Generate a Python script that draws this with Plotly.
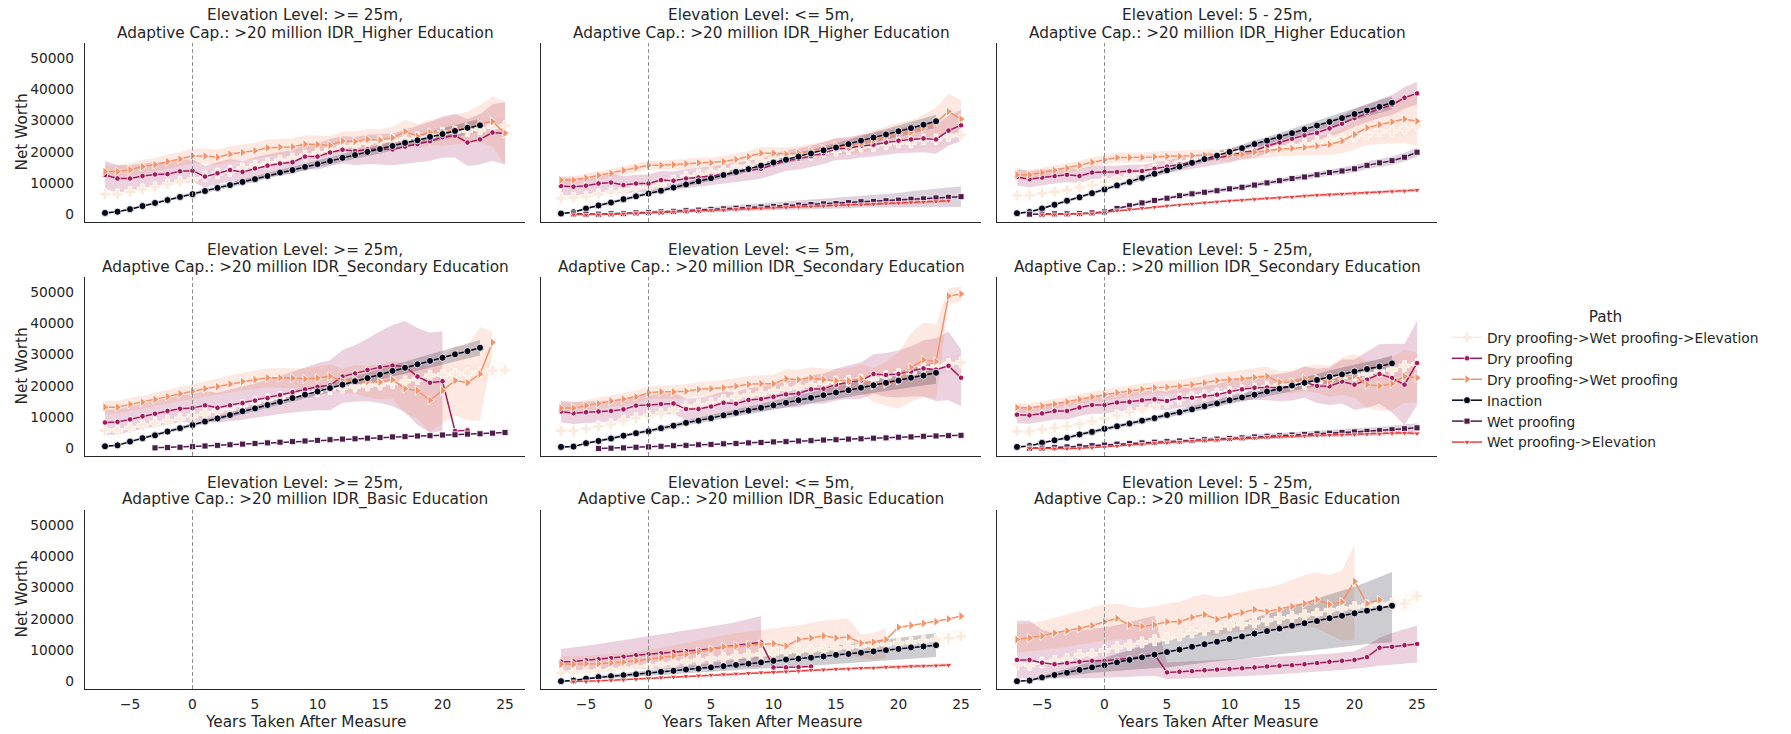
import plotly.graph_objects as go

FIG_W, FIG_H = 1791, 734

# ---------------------------------------------------------------- styling
PATHS = [
    "Dry proofing->Wet proofing->Elevation",
    "Dry proofing",
    "Dry proofing->Wet proofing",
    "Inaction",
    "Wet proofing",
    "Wet proofing->Elevation",
]
COLORS = {
    "Dry proofing->Wet proofing->Elevation": "#faebdd",
    "Dry proofing": "#a11a5b",
    "Dry proofing->Wet proofing": "#f4926a",
    "Inaction": "#03051a",
    "Wet proofing": "#4c1d4b",
    "Wet proofing->Elevation": "#e83f3f",
}
SYMBOLS = {
    "Dry proofing->Wet proofing->Elevation": "cross",
    "Dry proofing": "circle",
    "Dry proofing->Wet proofing": "triangle-right",
    "Inaction": "circle",
    "Wet proofing": "square",
    "Wet proofing->Elevation": "triangle-down",
}
MARKER_SIZES = {
    "Dry proofing->Wet proofing->Elevation": 9,
    "Dry proofing": 5.5,
    "Dry proofing->Wet proofing": 8,
    "Inaction": 7,
    "Wet proofing": 6,
    "Wet proofing->Elevation": 6,
}

ELEVATION_LEVELS = [">= 25m", "<= 5m", "5 - 25m"]
EDUCATION_LEVELS = ["Higher Education", "Secondary Education", "Basic Education"]
X_TICKS = [-5, 0, 5, 10, 15, 20, 25]
Y_TICKS = [0, 10000, 20000, 30000, 40000, 50000]

TEXT = "#262626"
FONT = "DejaVu Sans"

# ---------------------------------------------------------------- data
# Net worth in thousands; each series starts at year `start` and runs one
# value per year. Bands are the confidence interval (half width, or lo/hi).

band_narrow_31 = [0.3, 0.3, 0.4, 0.4, 0.5, 0.5, 0.5, 0.6, 0.6, 0.7, 0.7, 0.8, 0.8, 0.9, 0.9, 1.0,
                  1.0, 1.1, 1.1, 1.2, 1.2, 1.3, 1.4, 1.4, 1.5, 1.6, 1.7, 1.8, 1.9, 2.0, 2.1]
band_light_33 = [1.0, 1.0, 1.0, 1.0, 1.1, 1.1, 1.1, 1.2, 1.2, 1.2, 1.3, 1.3, 1.3, 1.4, 1.4, 1.4, 1.5,
                 1.5, 1.6, 1.6, 1.7, 1.7, 1.8, 1.9, 2.0, 2.1, 2.2, 2.3, 2.4, 2.5, 2.6, 2.8, 3.0]
band_wp_32 = [0.3, 0.3, 0.3, 0.3, 0.3, 0.3, 0.4, 0.4, 0.4, 0.5, 0.5, 0.5, 0.6, 0.6, 0.6, 0.7,
              0.7, 0.7, 0.8, 0.8, 0.8, 0.9, 0.9, 1.0, 1.0, 1.1, 1.1, 1.2, 1.2, 1.3, 1.4, 1.5]
band_wpe_32 = [0.2, 0.2, 0.2, 0.2, 0.2, 0.2, 0.2, 0.3, 0.3, 0.3, 0.3, 0.3, 0.3, 0.3, 0.4, 0.4,
               0.4, 0.4, 0.4, 0.4, 0.5, 0.5, 0.5, 0.5, 0.5, 0.5, 0.6, 0.6, 0.6, 0.6, 0.6, 0.6]

# >= 25m, Higher Education
higher_ge25 = {
    "Dry proofing->Wet proofing->Elevation": dict(
        start=-7,
        mean=[6.5, 6.5, 7.3, 8.1, 8.7, 9.6, 10.5, 11.3, 12.2, 13.1, 13.9, 14.7, 15.6, 16.3, 17.2, 17.9, 18.8,
              19.6, 20.6, 21.5, 22.2, 23.0, 23.5, 23.8, 24.0, 24.7, 25.1, 26.2, 26.5, 26.7, 27.2, 28.1, 28.3],
        half=band_light_33),
    "Dry proofing": dict(
        start=-7,
        mean=[12.6, 11.5, 11.5, 12.3, 12.8, 12.9, 13.8, 14.0, 12.1, 13.2, 14.2, 13.6, 14.7, 15.6, 16.3, 16.7, 18.5,
              18.5, 19.8, 20.7, 20.3, 20.8, 20.9, 20.8, 21.7, 22.5, 23.4, 24.7, 25.2, 23.0, 24.0, 26.2, 25.9],
        half=[4.5, 4.3, 4.2, 4.0, 3.9, 3.8, 3.7, 3.6, 3.5, 3.5, 3.5, 3.5, 3.6, 3.6, 3.7, 3.8, 4.0,
              4.2, 4.3, 4.4, 4.5, 4.7, 4.9, 5.1, 5.4, 5.8, 6.2, 6.6, 7.0, 7.5, 8.0, 9.0, 10.0]),
    "Dry proofing->Wet proofing": dict(
        start=-7,
        mean=[13.7, 13.7, 14.3, 15.3, 15.9, 16.9, 17.7, 18.7, 18.7, 18.3, 19.3, 19.8, 20.4, 21.3, 21.5, 21.6, 22.5,
              22.4, 22.1, 23.5, 23.3, 24.0, 23.8, 24.5, 26.5, 25.0, 26.2, 26.3, 27.0, 27.9, 29.0, 29.7, 26.0],
        half=[2.0, 2.0, 2.1, 2.2, 2.2, 2.3, 2.3, 2.4, 2.4, 2.5, 2.5, 2.6, 2.6, 2.7, 2.7, 2.8, 2.8,
              2.9, 3.0, 3.1, 3.2, 3.3, 3.4, 3.5, 3.7, 3.9, 4.1, 4.4, 4.7, 5.0, 6.0, 8.0, 10.0]),
    "Inaction": dict(
        start=-7,
        mean=[0.5, 0.9, 1.7, 2.7, 3.7, 4.6, 5.6, 6.5, 7.5, 8.5, 9.4, 10.4, 11.3, 12.3, 13.4, 14.2,
              15.2, 16.1, 17.1, 18.1, 19.0, 20.0, 20.9, 21.9, 22.9, 23.7, 24.8, 25.7, 26.7, 27.7, 28.5],
        half=band_narrow_31),
}

# <= 5m, Higher Education
higher_le5 = {
    "Dry proofing->Wet proofing->Elevation": dict(
        start=-7,
        mean=[5.2, 5.4, 5.7, 6.5, 7.1, 7.8, 8.4, 8.9, 9.4, 10.8, 12.0, 12.7, 13.4, 14.1, 15.2, 15.2, 16.9,
              17.8, 18.8, 18.6, 19.1, 20.1, 20.4, 20.9, 21.7, 21.9, 22.5, 23.0, 23.0, 24.0, 24.0, 25.1, 25.4],
        half=band_light_33),
    "Dry proofing": dict(
        start=-7,
        mean=[9.1, 8.9, 9.2, 9.9, 10.2, 9.4, 9.9, 9.9, 11.0, 10.8, 11.5, 11.8, 12.3, 12.9, 13.5, 14.1, 14.6,
              16.0, 17.2, 17.8, 18.6, 19.6, 20.9, 21.2, 21.9, 22.3, 23.0, 23.6, 24.0, 24.3, 24.0, 26.8, 28.5],
        half=[2.8, 2.8, 2.8, 2.8, 2.8, 2.8, 2.8, 2.9, 2.9, 2.9, 3.0, 3.0, 3.0, 3.1, 3.1, 3.2, 3.2,
              3.3, 3.3, 3.4, 3.4, 3.5, 3.5, 3.6, 3.7, 3.8, 3.9, 4.0, 4.2, 4.4, 4.6, 4.8, 5.0]),
    "Dry proofing->Wet proofing": dict(
        start=-7,
        mean=[11.0, 11.0, 11.7, 12.5, 13.1, 14.1, 14.9, 15.7, 15.7, 15.9, 16.2, 16.5, 16.5, 16.9, 17.6, 18.5, 19.6,
              19.6, 19.3, 19.6, 20.2, 20.9, 21.9, 21.7, 22.5, 23.8, 24.9, 25.8, 26.3, 27.7, 29.3, 32.9, 30.5],
        half=[1.3, 1.3, 1.3, 1.4, 1.4, 1.4, 1.5, 1.5, 1.5, 1.6, 1.6, 1.7, 1.7, 1.8, 1.8, 1.9, 2.0,
              2.0, 2.1, 2.2, 2.3, 2.4, 2.5, 2.6, 2.8, 3.0, 3.2, 3.5, 3.8, 4.2, 4.8, 5.8, 6.0]),
    "Inaction": dict(
        start=-7,
        mean=[0.3, 0.7, 1.9, 2.9, 3.8, 4.9, 5.8, 6.7, 7.6, 8.6, 9.6, 10.6, 11.6, 12.6, 13.6, 14.5,
              15.6, 16.6, 17.5, 18.5, 19.5, 20.5, 21.4, 22.5, 23.6, 24.6, 25.6, 26.6, 27.6, 28.7, 29.8],
        half=band_narrow_31),
    "Wet proofing": dict(
        start=-6,
        mean=[0.2, 0.1, 0.1, 0.2, 0.3, 0.5, 0.6, 0.8, 1.0, 1.2, 1.4, 1.6, 1.8, 2.0, 2.2, 2.4,
              2.6, 2.8, 3.0, 3.2, 3.4, 3.5, 3.8, 4.1, 4.2, 4.4, 4.6, 4.9, 5.0, 5.3, 5.5, 5.7],
        half=[0.3, 0.3, 0.3, 0.3, 0.4, 0.4, 0.5, 0.5, 0.6, 0.7, 0.7, 0.8, 0.9, 1.0, 1.0, 1.1,
              1.2, 1.3, 1.4, 1.5, 1.6, 1.7, 1.8, 1.9, 2.0, 2.2, 2.3, 2.5, 2.7, 2.9, 3.1, 3.3]),
    "Wet proofing->Elevation": dict(
        start=-6,
        mean=[0.0, -0.1, 0.0, 0.1, 0.3, 0.4, 0.5, 0.7, 0.9, 1.0, 1.2, 1.4, 1.5, 1.7, 1.9, 2.0,
              2.2, 2.3, 2.5, 2.6, 2.8, 2.9, 3.1, 3.2, 3.4, 3.6, 3.7, 3.9, 4.0, 4.2, 4.4],
        half=band_wpe_32[:31]),
}

# 5 - 25m, Higher Education
higher_5to25 = {
    "Dry proofing->Wet proofing->Elevation": dict(
        start=-7,
        mean=[6.1, 6.1, 6.8, 7.3, 7.8, 8.7, 9.4, 10.4, 11.5, 12.3, 13.4, 14.4, 15.2, 16.5, 17.8, 18.6, 19.3,
              19.9, 20.4, 20.7, 20.9, 21.4, 21.9, 22.5, 23.2, 23.8, 24.2, 24.9, 25.6, 26.6, 26.6, 27.4, 28.4],
        half=band_light_33),
    "Dry proofing": dict(
        start=-7,
        mean=[12.0, 11.3, 11.8, 12.3, 12.7, 12.3, 13.4, 13.6, 13.6, 13.9, 13.9, 14.6, 15.3, 16.0, 16.7, 17.5, 18.0,
              18.8, 19.9, 20.4, 21.9, 23.0, 24.2, 25.3, 26.1, 27.5, 29.0, 30.8, 32.4, 33.8, 35.0, 37.3, 38.7],
        half=[2.7, 2.6, 2.5, 2.4, 2.3, 2.2, 2.1, 2.0, 2.0, 2.0, 2.0, 2.0, 2.0, 2.0, 2.0, 2.1, 2.1,
              2.2, 2.2, 2.3, 2.3, 2.4, 2.4, 2.5, 2.5, 2.6, 2.7, 2.8, 2.9, 3.0, 3.2, 3.4, 3.6]),
    "Dry proofing->Wet proofing": dict(
        start=-7,
        mean=[12.7, 12.7, 13.4, 14.1, 14.8, 15.7, 16.7, 17.5, 18.2, 18.2, 18.2, 18.4, 18.6, 18.6, 18.8, 19.0, 19.0,
              19.0, 19.2, 19.9, 20.4, 20.9, 21.1, 21.4, 21.9, 22.4, 23.5, 25.6, 27.7, 28.7, 29.6, 30.5, 29.8],
        half=[1.5, 1.5, 1.5, 1.5, 1.5, 1.5, 1.5, 1.5, 1.6, 1.6, 1.6, 1.7, 1.7, 1.8, 1.8, 1.9, 1.9,
              2.0, 2.0, 2.1, 2.2, 2.3, 2.5, 2.7, 3.0, 3.4, 4.0, 4.8, 5.5, 6.2, 7.0, 7.6, 8.0]),
    "Inaction": dict(
        start=-7,
        mean=[0.4, 0.8, 1.9, 3.1, 4.4, 5.5, 6.8, 8.0, 9.3, 10.4, 11.7, 13.0, 14.1, 15.3, 16.5, 17.7,
              18.8, 20.0, 21.2, 22.5, 23.6, 24.8, 26.0, 27.2, 28.4, 29.6, 30.8, 32.1, 33.2, 34.4, 35.7],
        half=band_narrow_31),
    "Wet proofing": dict(
        start=-6,
        mean=[0.1, 0.1, 0.2, 0.2, 0.3, 0.5, 0.8, 1.9, 2.8, 3.7, 4.5, 5.2, 6.0, 6.6, 7.1, 7.6,
              8.2, 8.7, 9.4, 10.1, 10.8, 11.5, 12.0, 12.7, 13.4, 13.9, 14.6, 15.7, 16.5, 17.2, 18.3, 19.9],
        half=band_wp_32),
    "Wet proofing->Elevation": dict(
        start=-5,
        mean=[0.0, 0.0, 0.0, 0.2, 0.3, 0.7, 1.3, 1.7, 2.1, 2.4, 2.8, 3.1, 3.4, 3.8, 4.1, 4.4,
              4.6, 4.9, 5.2, 5.4, 5.6, 6.0, 6.2, 6.4, 6.6, 6.8, 7.0, 7.2, 7.4, 7.6, 7.8],
        half=band_wpe_32[:31]),
}

# >= 25m, Secondary Education
secondary_ge25 = {
    "Dry proofing->Wet proofing->Elevation": dict(
        start=-7,
        mean=[5.8, 5.8, 6.6, 7.4, 8.2, 8.8, 9.5, 10.4, 11.2, 12.1, 12.9, 13.9, 14.8, 15.7, 16.4, 17.1, 17.8,
              18.3, 19.0, 19.4, 19.8, 20.1, 20.4, 20.9, 21.5, 22.2, 23.3, 23.6, 23.8, 24.0, 24.4, 24.9, 25.1],
        half=band_light_33),
    "Dry proofing": dict(
        start=-7,
        mean=[8.3, 8.5, 9.3, 10.3, 11.1, 12.0, 12.7, 12.9, 13.8, 13.0, 13.8, 14.5, 15.3, 16.1, 17.1, 18.0,
              18.9, 19.7, 20.2, 23.0, 24.0, 25.1, 26.0, 26.5, 26.2, 23.0, 21.0, 21.5, 5.6, 5.8],
        half=[4.0, 4.0, 4.0, 4.1, 4.1, 4.2, 4.3, 4.5, 4.6, 4.8, 5.0, 5.3, 5.5, 5.8, 6.1, 6.5,
              7.0, 7.5, 8.0, 8.5, 9.0, 10.0, 11.5, 13.0, 14.5, 15.5, 16.0, 16.0]),
    "Dry proofing->Wet proofing": dict(
        start=-7,
        mean=[13.2, 13.2, 14.1, 14.8, 15.7, 16.6, 17.5, 18.3, 19.1, 19.8, 20.6, 21.4, 22.0, 22.6, 22.6, 22.5,
              22.2, 22.5, 23.1, 21.5, 22.1, 21.4, 21.2, 22.0, 19.1, 18.5, 15.4, 18.5, 21.7, 21.0, 23.8, 33.9],
        half=[2.0, 2.0, 2.1, 2.1, 2.2, 2.2, 2.3, 2.4, 2.5, 2.6, 2.7, 2.8, 2.9, 3.0, 3.1, 3.2,
              3.4, 3.6, 3.8, 4.0, 4.5, 5.0, 5.5, 6.0, 8.0, 9.0, 10.0, 10.5, 11.0, 12.0, 15.0, 3.5]),
    "Inaction": dict(
        start=-7,
        mean=[0.7, 1.0, 2.2, 3.3, 4.2, 5.4, 6.5, 7.5, 8.6, 9.6, 10.7, 11.9, 12.8, 13.9, 14.9, 16.1,
              17.2, 18.2, 19.3, 20.4, 21.5, 22.5, 23.6, 24.8, 25.8, 26.9, 28.0, 29.0, 30.1, 31.1, 32.2],
        half=[0.3, 0.3, 0.4, 0.4, 0.5, 0.5, 0.6, 0.6, 0.7, 0.7, 0.8, 0.8, 0.9, 0.9, 1.0, 1.1,
              1.1, 1.2, 1.3, 1.4, 1.5, 1.6, 1.7, 1.8, 1.9, 2.0, 2.1, 2.2, 2.3, 2.4, 2.5]),
    "Wet proofing": dict(
        start=-3,
        mean=[0.2, 0.3, 0.4, 0.6, 0.8, 1.0, 1.2, 1.4, 1.6, 1.8, 2.0, 2.2, 2.4, 2.6, 2.8,
              3.0, 3.1, 3.3, 3.5, 3.7, 3.8, 4.0, 4.1, 4.3, 4.4, 4.6, 4.7, 4.9, 5.1]),
}

# <= 5m, Secondary Education
secondary_le5 = {
    "Dry proofing->Wet proofing->Elevation": dict(
        start=-7,
        mean=[5.7, 5.7, 6.3, 7.1, 7.8, 8.9, 9.7, 10.4, 11.1, 12.3, 13.4, 13.9, 14.4, 15.5, 16.5, 17.0, 17.6,
              18.3, 19.1, 19.6, 20.2, 21.0, 21.4, 21.7, 22.0, 22.3, 23.1, 23.8, 24.3, 25.7, 26.2, 27.0, 27.5],
        half=band_light_33),
    "Dry proofing": dict(
        start=-7,
        mean=[11.8, 11.3, 11.6, 11.8, 12.0, 12.5, 13.7, 13.9, 14.2, 14.4, 12.6, 12.6, 13.4, 14.6, 14.3, 15.5, 15.8,
              16.5, 17.3, 17.6, 18.9, 19.1, 20.4, 21.2, 21.7, 23.8, 23.5, 23.8, 24.6, 25.6, 25.2, 26.4, 22.6],
        half=[3.5, 3.5, 3.4, 3.4, 3.3, 3.3, 3.3, 3.3, 3.3, 3.4, 3.4, 3.5, 3.5, 3.6, 3.7, 3.8, 3.9,
              4.0, 4.2, 4.4, 4.6, 4.8, 5.1, 5.4, 5.8, 6.3, 7.0, 7.5, 8.0, 9.0, 10.0, 11.0, 9.0]),
    "Dry proofing->Wet proofing": dict(
        start=-7,
        mean=[12.9, 12.9, 13.7, 14.4, 15.2, 15.8, 16.5, 17.8, 18.1, 18.1, 18.3, 18.9, 19.1, 19.4, 19.9, 20.5, 20.7,
              20.7, 22.3, 22.0, 22.6, 22.0, 21.7, 21.7, 22.3, 20.2, 20.7, 21.7, 25.9, 28.3, 27.8, 48.7, 49.4],
        half=[1.8, 1.8, 1.8, 1.9, 1.9, 2.0, 2.0, 2.1, 2.1, 2.2, 2.2, 2.3, 2.4, 2.5, 2.6, 2.7, 2.8,
              2.9, 3.0, 3.2, 3.4, 3.6, 3.8, 4.0, 4.5, 5.5, 7.0, 9.0, 11.0, 12.0, 12.0, 2.5, 2.5]),
    "Inaction": dict(
        start=-7,
        mean=[0.5, 0.6, 1.7, 2.4, 3.2, 4.1, 4.9, 5.5, 6.5, 7.3, 8.2, 8.9, 9.7, 10.6, 11.4, 12.1,
              13.0, 13.8, 14.6, 15.4, 16.2, 17.0, 17.9, 18.6, 19.4, 20.2, 21.0, 21.7, 22.6, 23.3, 24.2],
        half=[0.3, 0.3, 0.4, 0.4, 0.5, 0.5, 0.6, 0.6, 0.7, 0.8, 0.8, 0.9, 1.0, 1.0, 1.1, 1.2,
              1.3, 1.4, 1.5, 1.6, 1.7, 1.8, 1.9, 2.0, 2.2, 2.4, 2.6, 2.8, 3.0, 3.2, 3.5]),
    "Wet proofing": dict(
        start=-4,
        mean=[0.0, 0.1, 0.2, 0.4, 0.5, 0.7, 0.9, 1.0, 1.2, 1.3, 1.5, 1.6, 1.8, 1.9, 2.1,
              2.2, 2.4, 2.5, 2.7, 2.8, 3.0, 3.1, 3.3, 3.4, 3.6, 3.7, 3.9, 4.0, 4.1, 4.2]),
}

# 5 - 25m, Secondary Education
secondary_5to25 = {
    "Dry proofing->Wet proofing->Elevation": dict(
        start=-7,
        mean=[5.5, 5.5, 6.1, 6.6, 7.1, 7.8, 8.7, 9.5, 10.6, 11.6, 12.5, 13.4, 14.7, 15.8, 16.5, 17.0, 17.6,
              18.1, 18.6, 19.1, 19.6, 20.2, 20.5, 20.7, 21.2, 22.3, 22.8, 23.5, 23.8, 24.6, 25.2, 26.4, 27.0],
        half=band_light_33),
    "Dry proofing": dict(
        start=-7,
        mean=[10.8, 10.6, 11.2, 12.0, 12.0, 13.1, 13.9, 13.9, 14.7, 14.9, 15.4, 15.7, 15.2, 16.2, 16.2, 16.8, 17.2,
              18.1, 18.9, 19.4, 19.5, 19.5, 19.9, 21.2, 20.0, 19.9, 21.4, 20.4, 22.0, 23.8, 22.5, 20.4, 27.3],
        half=[2.7, 2.7, 2.7, 2.7, 2.7, 2.7, 2.8, 2.8, 2.8, 2.9, 2.9, 3.0, 3.0, 3.1, 3.2, 3.3, 3.4,
              3.5, 3.6, 3.8, 4.0, 4.3, 4.6, 5.0, 5.5, 6.0, 7.0, 8.0, 9.0, 9.5, 11.0, 13.0, 13.5]),
    "Dry proofing->Wet proofing": dict(
        start=-7,
        mean=[13.1, 12.9, 13.6, 14.2, 14.9, 15.7, 16.5, 17.2, 17.8, 18.3, 18.9, 19.4, 19.6, 19.9, 20.4, 21.0, 21.7,
              22.0, 22.3, 22.7, 23.1, 21.2, 21.2, 22.3, 22.3, 21.5, 23.1, 23.3, 20.4, 20.0, 20.7, 23.1, 22.6],
        half=[1.5, 1.5, 1.5, 1.6, 1.6, 1.6, 1.7, 1.7, 1.8, 1.8, 1.9, 1.9, 2.0, 2.1, 2.2, 2.3, 2.4,
              2.5, 2.7, 2.9, 3.1, 3.4, 3.7, 4.0, 4.5, 5.0, 6.0, 7.0, 7.5, 8.0, 8.5, 8.5, 8.0]),
    "Inaction": dict(
        start=-7,
        mean=[0.5, 0.8, 1.8, 2.6, 3.4, 4.5, 5.3, 6.3, 7.1, 8.0, 8.9, 9.7, 10.7, 11.6, 12.5, 13.5,
              14.4, 15.4, 16.3, 17.2, 18.2, 19.1, 20.1, 21.0, 21.9, 22.9, 23.7, 24.6, 25.4, 26.2, 27.2],
        half=[0.3, 0.3, 0.4, 0.4, 0.5, 0.5, 0.6, 0.6, 0.7, 0.7, 0.8, 0.8, 0.9, 0.9, 1.0, 1.1,
              1.1, 1.2, 1.3, 1.4, 1.5, 1.6, 1.7, 1.8, 1.9, 2.0, 2.1, 2.2, 2.3, 2.4, 2.5]),
    "Wet proofing": dict(
        start=-6,
        mean=[0.1, 0.1, 0.3, 0.5, 0.7, 0.9, 1.1, 1.4, 1.6, 1.8, 2.0, 2.2, 2.4, 2.6, 2.8, 3.0,
              3.2, 3.4, 3.7, 3.9, 4.1, 4.3, 4.5, 4.7, 4.9, 5.1, 5.3, 5.5, 5.7, 6.0, 6.3, 6.6],
        half=band_wp_32),
    "Wet proofing->Elevation": dict(
        start=-6,
        mean=[0.1, 0.0, 0.0, 0.0, 0.1, 0.3, 0.5, 0.8, 1.1, 1.4, 1.7, 1.9, 2.1, 2.4, 2.6, 2.8,
              3.0, 3.2, 3.4, 3.7, 3.9, 4.0, 4.1, 4.2, 4.3, 4.4, 4.5, 4.6, 4.7, 4.9, 5.0, 4.8],
        half=band_wpe_32),
}

# >= 25m, Basic Education: no observations
basic_ge25 = {}

# <= 5m, Basic Education
basic_le5 = {
    "Dry proofing->Wet proofing->Elevation": dict(
        start=-7,
        mean=[2.7, 2.9, 3.1, 3.3, 3.7, 4.1, 4.5, 5.0, 5.5, 5.9, 6.4, 6.8, 7.3, 7.6, 8.0, 8.4, 8.7,
              9.0, 9.4, 9.7, 10.0, 10.2, 10.6, 11.0, 11.3, 11.6, 11.9, 12.3, 12.5, 12.9, 13.3, 13.9, 14.4],
        half=[0.8, 0.8, 0.8, 0.8, 0.9, 0.9, 0.9, 1.0, 1.0, 1.0, 1.1, 1.1, 1.1, 1.2, 1.2, 1.2, 1.3,
              1.3, 1.4, 1.4, 1.5, 1.5, 1.6, 1.6, 1.7, 1.7, 1.8, 1.9, 2.0, 2.1, 2.2, 2.4, 2.6]),
    "Dry proofing": dict(
        start=-7,
        mean=[6.3, 6.4, 6.8, 7.1, 7.5, 7.9, 8.4, 8.7, 9.0, 9.4, 9.7, 10.0, 10.4, 11.0, 11.5, 12.0,
              12.5, 4.5, 4.5, 4.6, 4.8],
        lo=[3.5, 3.5, 3.6, 3.7, 3.8, 3.9, 4.0, 4.0, 4.1, 4.2, 4.3, 4.4, 4.5, 4.5, 4.6, 4.6, 4.7],
        hi=[10.4, 10.8, 11.4, 12.0, 12.6, 13.2, 13.8, 14.4, 15.0, 15.6, 16.2, 16.8, 17.5, 18.2, 19.0, 20.0, 20.9]),
    "Dry proofing->Wet proofing": dict(
        start=-7,
        mean=[5.5, 5.5, 5.7, 5.7, 5.9, 6.2, 6.6, 7.1, 7.6, 8.2, 8.7, 9.5, 10.2, 11.1, 11.3, 11.6, 11.8,
              12.1, 11.3, 13.4, 13.9, 14.6, 13.9, 14.2, 12.3, 12.6, 13.4, 17.3, 17.9, 18.6, 19.1, 20.0, 20.9],
        lo=[3.0, 3.0, 3.2, 3.3, 3.5, 3.8, 4.0, 4.3, 4.6, 5.0, 5.3, 5.7, 6.0, 6.4, 6.7, 7.0,
            7.2, 7.5, 7.7, 7.3, 8.0, 8.5, 9.0, 8.5, 7.5, 7.0, 7.5],
        hi=[8.0, 8.0, 8.2, 8.5, 8.7, 9.0, 9.5, 10.0, 10.7, 11.5, 12.3, 13.0, 13.8, 14.8, 15.5, 16.0,
            16.5, 17.0, 17.3, 18.0, 18.8, 19.5, 19.8, 20.2, 15.0, 15.5, 17.0]),
    "Inaction": dict(
        start=-7,
        mean=[0.1, 0.3, 0.9, 1.4, 1.7, 2.0, 2.3, 2.7, 3.1, 3.4, 3.8, 4.1, 4.5, 4.9, 5.3, 5.7,
              6.1, 6.6, 7.0, 7.3, 7.6, 8.0, 8.5, 8.8, 9.2, 9.6, 10.0, 10.4, 10.9, 11.2, 11.6],
        half=[0.3, 0.3, 0.4, 0.5, 0.6, 0.7, 0.8, 0.9, 1.0, 1.1, 1.2, 1.3, 1.4, 1.5, 1.7, 1.8,
              2.0, 2.1, 2.3, 2.4, 2.6, 2.7, 2.9, 3.0, 3.2, 3.3, 3.4, 3.5, 3.6, 3.7, 3.8]),
    "Wet proofing->Elevation": dict(
        start=-6,
        mean=[0.0, 0.0, 0.2, 0.4, 0.6, 0.8, 1.0, 1.3, 1.5, 1.7, 1.9, 2.1, 2.3, 2.5, 2.7, 2.9,
              3.0, 3.2, 3.4, 3.7, 3.8, 4.0, 4.1, 4.3, 4.4, 4.6, 4.7, 4.9, 5.0, 5.1, 5.3],
        half=band_wpe_32[:31]),
}

# 5 - 25m, Basic Education
basic_5to25 = {
    "Dry proofing->Wet proofing->Elevation": dict(
        start=-7,
        mean=[5.5, 5.3, 6.1, 6.6, 7.1, 8.4, 8.7, 9.9, 11.0, 11.6, 12.5, 13.2, 13.9, 14.7, 15.7, 16.5, 17.2,
              17.9, 18.3, 18.9, 19.6, 20.2, 20.7, 21.2, 21.7, 22.8, 23.3, 23.8, 24.3, 24.7, 24.9, 24.9, 27.3],
        half=band_light_33),
    "Dry proofing": dict(
        start=-7,
        mean=[6.9, 6.9, 6.0, 5.5, 5.9, 6.3, 6.6, 6.6, 6.9, 7.4, 7.9, 8.7, 2.9, 3.1, 3.3, 3.6, 3.8,
              4.0, 4.2, 4.5, 4.8, 5.0, 5.2, 5.5, 5.9, 6.3, 6.6, 6.9, 7.8, 10.8, 11.1, 11.6, 12.0],
        lo=[1.0, 1.0, 1.0, 1.0, 1.0, 1.0, 1.0, 1.0, 1.2, 1.4, 1.6, 1.8, 0.8, 0.9, 1.0, 1.1, 1.2,
            1.5, 1.7, 1.9, 2.1, 2.3, 2.5, 2.8, 3.1, 3.4, 3.7, 4.0, 4.5, 5.0, 5.5, 5.8, 6.1],
        hi=[19.4, 19.4, 16.5, 15.5, 15.8, 16.2, 16.8, 17.3, 18.0, 19.0, 20.0, 21.0, 6.1, 6.3, 6.5, 6.7, 6.8,
            7.0, 7.2, 7.4, 7.6, 7.8, 8.0, 8.3, 8.6, 8.9, 9.3, 9.7, 11.5, 14.0, 15.5, 16.8, 17.9]),
    "Dry proofing->Wet proofing": dict(
        start=-7,
        mean=[13.4, 13.9, 14.6, 15.5, 16.2, 17.0, 17.9, 19.1, 20.2, 18.1, 17.6, 18.1, 19.1, 19.1, 20.5,
              21.4, 19.9, 21.0, 22.0, 23.0, 22.3, 23.1, 24.0, 24.9, 26.2, 24.6, 25.4, 32.0, 24.9, 26.1],
        lo=[9.2, 9.5, 10.0, 10.5, 11.0, 11.8, 12.3, 13.0, 13.5, 13.0, 12.8, 13.0, 13.5, 13.8,
            14.5, 15.0, 14.5, 15.5, 16.0, 16.5, 16.0, 16.5, 17.0, 17.5, 17.0, 15.0, 13.0, 13.4],
        hi=[18.3, 18.5, 19.3, 20.5, 21.5, 22.5, 23.5, 24.7, 25.0, 24.0, 23.5, 24.0, 25.0, 25.5,
            27.0, 28.0, 27.0, 27.5, 28.5, 29.5, 30.0, 31.0, 32.5, 34.0, 34.8, 34.0, 35.5, 43.7]),
    "Inaction": dict(
        start=-7,
        mean=[0.1, 0.3, 1.3, 2.1, 2.8, 3.7, 4.5, 5.2, 6.1, 6.9, 7.7, 8.6, 9.4, 10.2, 11.1, 11.9,
              12.7, 13.6, 14.4, 15.3, 16.1, 16.9, 17.8, 18.6, 19.3, 20.2, 21.0, 21.8, 22.6, 23.4, 24.2],
        lo=[0.0, 0.1, 0.8, 1.3, 1.8, 2.3, 2.8, 3.0, 3.5, 3.8, 4.0, 4.3, 4.5, 5.0, 5.5, 6.0,
            6.5, 7.0, 7.3, 7.7, 8.0, 8.5, 9.0, 9.5, 10.0, 10.5, 11.0, 11.5, 12.0, 12.3, 12.5],
        hi=[0.3, 0.6, 1.8, 3.0, 4.0, 5.2, 6.3, 7.5, 8.8, 10.0, 11.2, 12.5, 13.0, 14.0, 15.0, 16.0,
            17.0, 18.0, 19.2, 20.3, 21.5, 22.7, 24.0, 25.2, 26.5, 27.8, 29.0, 30.3, 31.8, 33.3, 35.0]),
}

# panels laid out by row (education) and column (elevation)
PANELS = [
    [higher_ge25, higher_le5, higher_5to25],
    [secondary_ge25, secondary_le5, secondary_5to25],
    [basic_ge25, basic_le5, basic_5to25],
]

# ---------------------------------------------------------------- layout geometry (pixels)
COL_LEFT = [85, 541, 997]
PANEL_W = 440
ROW_TOP = [43, 277, 510]
PANEL_H = 179
X_RANGE = [-8.6, 26.6]
Y_RANGE = [-2400, 54800]


def px_x(px):
    return px / FIG_W


def px_y(px):
    return 1 - px / FIG_H


def rgba(hex_color, alpha):
    h = hex_color.lstrip("#")
    r, g, b = int(h[0:2], 16), int(h[2:4], 16), int(h[4:6], 16)
    return f"rgba({r},{g},{b},{alpha})"


def band_of(series):
    if "lo" in series:
        return series["lo"], series["hi"]
    if "half" in series:
        n = len(series["half"])
        mean = series["mean"][:n]
        lo = [m - h for m, h in zip(mean, series["half"])]
        hi = [m + h for m, h in zip(mean, series["half"])]
        return lo, hi
    return None, None


fig = go.Figure()
layout = dict(
    width=FIG_W, height=FIG_H,
    margin=dict(l=0, r=0, t=0, b=0),
    paper_bgcolor="white", plot_bgcolor="white",
    font=dict(family=FONT, color=TEXT, size=13.8),
    hovermode=False,
)
shapes, annotations = [], []

for r in range(3):
    for c in range(3):
        k = r * 3 + c + 1
        xname = "x" if k == 1 else f"x{k}"
        yname = "y" if k == 1 else f"y{k}"
        xkey = "xaxis" if k == 1 else f"xaxis{k}"
        ykey = "yaxis" if k == 1 else f"yaxis{k}"
        left, top = COL_LEFT[c], ROW_TOP[r]

        layout[xkey] = dict(
            domain=[px_x(left), px_x(left + PANEL_W)], range=X_RANGE, anchor=yname,
            showgrid=False, zeroline=False, showline=True, linecolor=TEXT, linewidth=1.25,
            ticks="", tickvals=X_TICKS,
            ticktext=[str(v).replace("-", "\u2212") for v in X_TICKS],
            showticklabels=(r == 2), ticklabelstandoff=2,
            tickfont=dict(size=13.8, color=TEXT),
        )
        layout[ykey] = dict(
            domain=[px_y(top + PANEL_H), px_y(top)], range=Y_RANGE, anchor=xname,
            showgrid=False, zeroline=False, showline=True, linecolor=TEXT, linewidth=1.25,
            ticks="", tickvals=Y_TICKS, ticktext=[str(v) for v in Y_TICKS],
            showticklabels=(c == 0), ticklabelstandoff=7,
            tickfont=dict(size=13.8, color=TEXT),
        )

        series_map = PANELS[r][c]
        # confidence bands below every line
        for path in PATHS:
            s = series_map.get(path)
            if s is None:
                continue
            lo, hi = band_of(s)
            if lo is None:
                continue
            xs = [s["start"] + i for i in range(len(lo))]
            fig.add_trace(go.Scatter(
                x=xs + xs[::-1], y=[v * 1000 for v in hi] + [v * 1000 for v in lo[::-1]],
                xaxis=xname, yaxis=yname, mode="lines", fill="toself",
                fillcolor=rgba(COLORS[path], 0.2), line=dict(width=0),
                showlegend=False, hoverinfo="skip", legendgroup=path,
            ))
        for path in PATHS:
            s = series_map.get(path)
            if s is None:
                continue
            xs = [s["start"] + i for i in range(len(s["mean"]))]
            fig.add_trace(go.Scatter(
                x=xs, y=[v * 1000 for v in s["mean"]], xaxis=xname, yaxis=yname,
                mode="lines+markers", line=dict(color=COLORS[path], width=1.5),
                marker=dict(symbol=SYMBOLS[path], size=MARKER_SIZES[path], color=COLORS[path],
                            line=dict(color="white", width=0.8)),
                showlegend=False, legendgroup=path, name=path,
            ))

        # reference line at the year the measure was taken
        shapes.append(dict(
            type="line", xref=xname, yref=f"{yname} domain", x0=0, x1=0, y0=0, y1=1,
            line=dict(color="#8c8c8c", width=1, dash="4px,2.5px"), layer="above",
        ))

        # two-line panel title
        cx = px_x(left + PANEL_W / 2)
        annotations.append(dict(
            text=f"Elevation Level: {ELEVATION_LEVELS[c]},", xref="paper", yref="paper",
            x=cx, y=px_y(top - 27.5), xanchor="center", yanchor="middle", showarrow=False,
            font=dict(size=15.3, color=TEXT),
        ))
        annotations.append(dict(
            text=f"Adaptive Cap.: >20 million IDR_{EDUCATION_LEVELS[r]}", xref="paper", yref="paper",
            x=cx, y=px_y(top - 10), xanchor="center", yanchor="middle", showarrow=False,
            font=dict(size=15.3, color=TEXT),
        ))

    annotations.append(dict(
        text="Net Worth", xref="paper", yref="paper", x=px_x(21),
        y=px_y(ROW_TOP[r] + PANEL_H / 2), xanchor="center", yanchor="middle",
        textangle=-90, showarrow=False, font=dict(size=15.3, color=TEXT),
    ))

for c in range(3):
    annotations.append(dict(
        text="Years Taken After Measure", xref="paper", yref="paper",
        x=px_x(COL_LEFT[c] + PANEL_W / 2), y=px_y(722), xanchor="center", yanchor="middle",
        showarrow=False, font=dict(size=15.3, color=TEXT),
    ))

# legend entries in hue order
for path in PATHS:
    fig.add_trace(go.Scatter(
        x=[None], y=[None], xaxis="x", yaxis="y", mode="lines+markers", name=path,
        line=dict(color=COLORS[path], width=1.5),
        marker=dict(symbol=SYMBOLS[path], size=MARKER_SIZES[path], color=COLORS[path],
                    line=dict(color="white", width=0.8)),
        showlegend=True, legendgroup=path,
    ))

layout["shapes"] = shapes
layout["annotations"] = annotations
layout["legend"] = dict(
    x=px_x(1447), y=px_y(302), xanchor="left", yanchor="top",
    bgcolor="rgba(0,0,0,0)", borderwidth=0, tracegroupgap=2,
    font=dict(size=13.8, color=TEXT),
    title=dict(text="Path", side="top center", font=dict(size=15.3, color=TEXT)),
    traceorder="normal",
)
fig.update_layout(**layout)

fig.write_html("out.html")
